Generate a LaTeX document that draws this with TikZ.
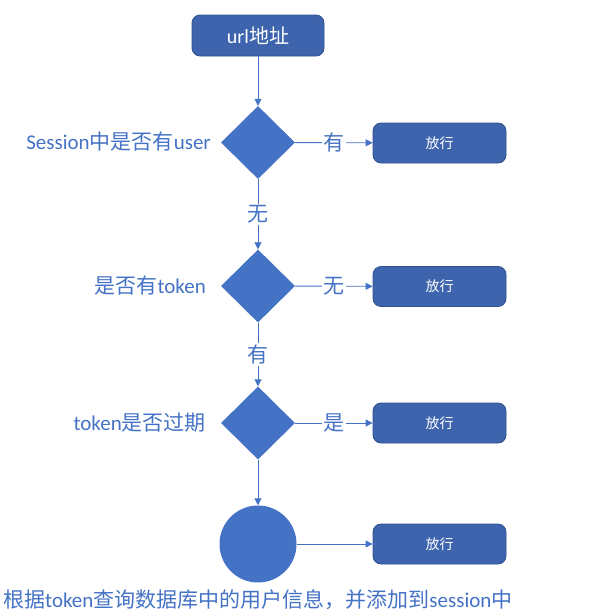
\documentclass[tikz,border=0pt]{standalone}
\usepackage{fontspec}
\setmainfont{Carlito}
\newfontfamily\cjk{Noto Sans CJK SC}
\usetikzlibrary{shapes.geometric,arrows.meta}
\definecolor{boxfill}{HTML}{3D64AD}
\definecolor{boxdraw}{HTML}{2F528F}
\definecolor{dfill}{HTML}{4472C4}
\definecolor{tblue}{HTML}{4472C4}
\tikzset{
  passbox/.style={draw=boxdraw, line width=0.8pt, fill=boxfill, rounded corners=8pt,
    minimum width=133pt, minimum height=40pt, inner sep=0pt, text=white,
    font=\cjk\fontsize{14}{16}\selectfont},
  startbox/.style={passbox, minimum width=132pt, minimum height=41pt,
    font=\fontsize{20}{22}\selectfont},
  decision/.style={diamond, fill=dfill, minimum width=74pt, minimum height=73pt, inner sep=0pt},
  flow/.style={draw=tblue, line width=0.9pt, -{Triangle[length=7pt,width=7pt]}},
  lbl/.style={font=\cjk\fontsize{21}{23}\selectfont, text=tblue, fill=white, inner sep=1.5pt},
  side/.style={text=tblue, font=\fontsize{21}{23}\selectfont, anchor=east, inner sep=0pt},
}
\begin{document}
\begin{tikzpicture}[x=1pt,y=-1pt]
\useasboundingbox (0,0) rectangle (603,613);
\node[startbox] (start) at (258,35.5) {url{\cjk 地址}};
\node[decision] (d1) at (258,142.5) {};
\node[passbox] (p1) at (439.5,143) {放行};
\node[decision] (d2) at (258,286) {};
\node[passbox] (p2) at (439.5,286.5) {放行};
\node[decision] (d3) at (258,423) {};
\node[passbox] (p3) at (439.5,423) {放行};
\node[circle, fill=dfill, minimum size=77pt, inner sep=0pt] (c) at (258,544) {};
\node[passbox] (p4) at (439.5,544) {放行};

\draw[flow] (start) -- (d1);
\draw[flow] (d1) -- node[lbl] (l1) {有} (p1);
\draw[flow] (d1) -- node[lbl] (l2) {无} (d2);
\draw[flow] (d2) -- node[lbl] (l3) {无} (p2);
\draw[flow] (d2) -- node[lbl] (l4) {有} (d3);
\draw[flow] (d3) -- node[lbl] (l5) {是} (p3);
\draw[flow] (d3) -- (c);
\draw[flow] (c) -- (p4);

\node[side] (s1) at (211,142) {Session{\cjk 中是否有}user};
\node[side] (s2) at (206,286) {{\cjk 是否有}token};
\node[side] (s3) at (206,423) {token{\cjk 是否过期}};
\node[text=tblue, anchor=west, inner sep=0pt, font=\fontsize{21}{23}\selectfont] (bottom) at (3,600)
  {{\cjk 根据}token{\cjk 查询数据库中的用户信息，并添加到}session{\cjk 中}};
\end{tikzpicture}
\end{document}
